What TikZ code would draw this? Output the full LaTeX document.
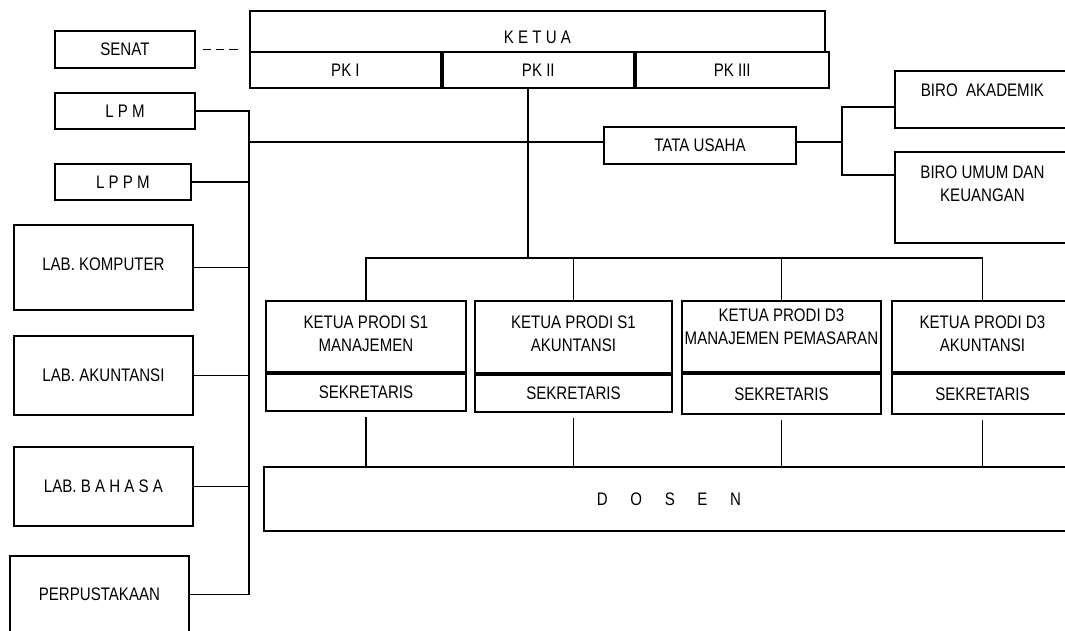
\documentclass[tikz,border=0pt]{standalone}
\usepackage{fontspec}
\setmainfont{Liberation Sans}[FakeStretch=0.83]
\usetikzlibrary{positioning}

\begin{document}
\begin{tikzpicture}[
    x=0.03cm, y=-0.03cm,
    font=\fontsize{15.5}{19.6}\selectfont,
    box/.style={draw, line width=1.6pt, align=center, inner xsep=1pt, inner ysep=0pt, anchor=north west},
    link/.style={line width=1.6pt}
  ]
    \useasboundingbox (0,0) rectangle (1065,630);
    \clip (0,0) rectangle (1065,630);

    % Ketua dan pembantu ketua
    \node[box, minimum width=17.25cm, minimum height=1.23cm, text height=0.72cm, text depth=0pt] (ketua) at (249,10) {K E T U A};
    \node[box, minimum width=5.73cm, minimum height=1.08cm] (pk1) at (249,51) {PK I};
    \node[box, minimum width=5.73cm, minimum height=1.08cm, right=0pt of pk1] (pk2) {PK II};
    \node[box, minimum width=5.79cm, minimum height=1.08cm, right=0pt of pk2] (pk3) {PK III};

    % Senat
    \node[box, minimum width=4.2cm, minimum height=1.11cm] (senat) at (54,30) {SENAT};

    % Lembaga, lab dan perpustakaan
    \node[box, minimum width=4.2cm, minimum height=1.08cm] (lpm) at (54,92) {L P M};
    \node[box, minimum width=4.08cm, minimum height=1.08cm] (lppm) at (54,163) {L P P M};
    \node[box, minimum width=5.37cm, minimum height=2.55cm, text depth=0.2cm] (labkom) at (13,224) {LAB. KOMPUTER};
    \node[box, minimum width=5.37cm, minimum height=2.37cm] (labak) at (13,335) {LAB. AKUNTANSI};
    \node[box, minimum width=5.37cm, minimum height=2.37cm] (labbhs) at (13,446) {LAB. B A H A S A};
    \node[box, minimum width=5.37cm, minimum height=2.31cm] (perpus) at (9,555) {PERPUSTAKAAN};

    % Tata usaha dan biro
    \node[box, minimum width=5.76cm, minimum height=1.11cm] (tu) at (603,126) {TATA USAHA};
    \node[box, minimum width=5.25cm, minimum height=1.71cm, text depth=0.57cm] (biroak) at (894,70) {BIRO~~AKADEMIK};
    \node[box, minimum width=5.25cm, minimum height=2.73cm, text depth=0.81cm] (biroum) at (894,151) {BIRO UMUM DAN\\KEUANGAN};

    % Ketua prodi dan sekretaris
    \node[box, minimum width=6cm, minimum height=2.13cm, text depth=0.18cm] (kp1) at (265,300) {KETUA PRODI S1\\MANAJEMEN};
    \node[box, minimum width=6cm, minimum height=1.11cm, below=0pt of kp1] (sk1) {SEKRETARIS};
    \node[box, minimum width=5.91cm, minimum height=2.16cm, text depth=0.18cm] (kp2) at (474,300) {KETUA PRODI S1\\AKUNTANSI};
    \node[box, minimum width=5.91cm, minimum height=1.11cm, below=0pt of kp2] (sk2) {SEKRETARIS};
    \node[box, minimum width=5.97cm, minimum height=2.13cm, text depth=0.6cm] (kp3) at (681,300) {KETUA PRODI D3\\MANAJEMEN PEMASARAN};
    \node[box, minimum width=5.97cm, minimum height=1.2cm, below=0pt of kp3] (sk3) {SEKRETARIS};
    \node[box, minimum width=5.43cm, minimum height=2.13cm, text depth=0.18cm] (kp4) at (891,300) {KETUA PRODI D3\\AKUNTANSI};
    \node[box, minimum width=5.43cm, minimum height=1.2cm, below=0pt of kp4] (sk4) {SEKRETARIS};

    % Dosen
    \node[box, minimum width=24.3cm, minimum height=1.92cm] (dosen) at (263,466) {D\hspace{0.68cm}O\hspace{0.68cm}S\hspace{0.68cm}E\hspace{0.68cm}N};

    % Garis
    \coordinate (bus) at (249,142);
    \coordinate (hub) at (528,258);
    \coordinate (bbus) at (842,142);

    \draw[link, dash pattern=on 7pt off 4.5pt, shorten <=0.2cm, shorten >=0.33cm] (senat.east) -- (senat.east -| pk1.west);
    \draw[link] (pk2.south -| hub) -- (hub);
    \draw[link] (bus) -- (bus -| tu.west);
    \draw[link] (lpm.east) -| (bus |- perpus.east) -- (perpus.east);
    \foreach \n in {lppm,labkom,labak,labbhs}
      \draw[link] (\n.east) -- (\n.east -| bus);
    \draw[link] (tu.east |- bbus) -- (bbus);
    \draw[link] ([yshift=-1.11cm]biroak.north west) -| ([yshift=-0.72cm]biroum.north west -| bbus) -- ([yshift=-0.72cm]biroum.north west);
    \draw[link] (kp1.north) |- (kp4.north |- hub) -- (kp4.north);
    \foreach \n in {kp2,kp3}
      \draw[link] (\n.north) -- (\n.north |- hub);
    \foreach \n in {sk1,sk2,sk3,sk4}
      \draw[link, shorten <=0.15cm] (\n.south) -- (\n.south |- dosen.north);
  \end{tikzpicture}
\end{document}
